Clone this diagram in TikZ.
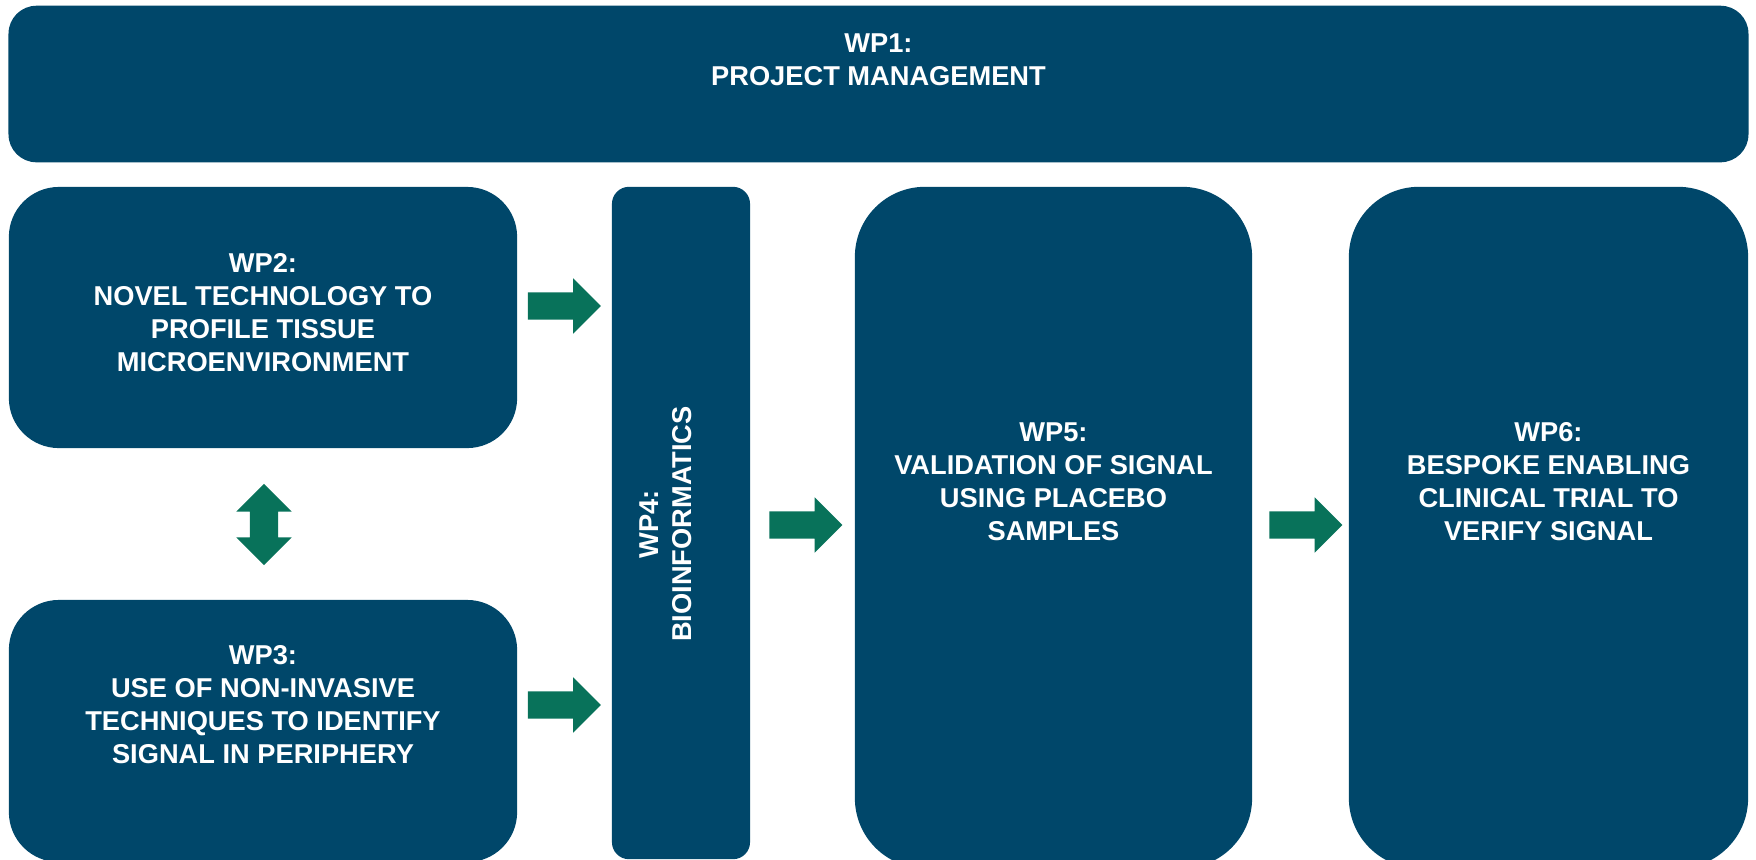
\documentclass[tikz,border=0pt]{standalone}
\usepackage{fontspec}
\setmainfont{Liberation Sans}
\usetikzlibrary{shapes.arrows}

\definecolor{wpblue}{RGB}{0,71,106}
\definecolor{wpgreen}{RGB}{8,114,90}

\tikzset{
  wpbox/.style={rectangle, fill=wpblue, draw=none, inner sep=0pt},
  wptext/.style={text=white, align=center, inner sep=0pt,
    font=\bfseries\fontsize{7.75}{9.4}\selectfont},
  wparrow/.style={single arrow, fill=wpgreen, draw=none, inner sep=0.13cm,
    minimum height=0.73cm, minimum width=0.54cm,
    single arrow head extend=0.14cm, single arrow head indent=0pt},
  wpdouble/.style={double arrow, fill=wpgreen, draw=none, inner sep=0.135cm,
    minimum height=0.81cm, minimum width=0.54cm,
    double arrow head extend=0.135cm, double arrow head indent=0pt}
}

\begin{document}
\begin{tikzpicture}[x=0.01cm, y=-0.01cm]
        \useasboundingbox (0,0) rectangle (1756,859);
        \clip (0,0) rectangle (1756,859);
        % ── WP1 a lo ancho ───────────────────────────────────
        \node[wpbox, rounded corners=0.28cm, minimum width=17.39cm, minimum height=1.565cm] (wp1) at (878.5,84) {};
        \node[wptext] (wp1txt) at (878.5,60) {WP1:\\PROJECT MANAGEMENT};
        % ── columna izquierda: WP2 y WP3 ─────────────────────
        \node[wpbox, rounded corners=0.5cm, minimum width=5.08cm, minimum height=2.61cm] (wp2) at (263,317.5) {};
        \node[wptext] (wp2txt) at (263,313) {WP2:\\NOVEL TECHNOLOGY TO\\PROFILE TISSUE\\MICROENVIRONMENT};
        \node[wpbox, rounded corners=0.5cm, minimum width=5.08cm, minimum height=2.62cm] (wp3) at (263,731) {};
        \node[wptext] (wp3txt) at (263,705) {WP3:\\USE OF NON-INVASIVE\\TECHNIQUES TO IDENTIFY\\SIGNAL IN PERIPHERY};
        \node[wpdouble, shape border rotate=90] (a23) at (264,524.5) {};
        % ── WP4 vertical ─────────────────────────────────────
        \node[wpbox, rounded corners=0.17cm, minimum width=1.38cm, minimum height=6.72cm] (wp4) at (681,523) {};
        \node[wptext, rotate=90] (wp4txt) at (666,524) {WP4:\\BIOINFORMATICS};
        \node[wparrow] (a24) at (557.5,306) {};
        \node[wparrow] (a34) at (557.5,705) {};
        % ── WP5 y WP6 ────────────────────────────────────────
        \node[wpbox, rounded corners=0.7cm, minimum width=3.97cm, minimum height=6.81cm] (wp5) at (1053.5,527.5) {};
        \node[wptext] (wp5txt) at (1053.5,482) {WP5:\\VALIDATION OF SIGNAL\\USING PLACEBO\\SAMPLES};
        \node[wpbox, rounded corners=0.7cm, minimum width=3.99cm, minimum height=6.81cm] (wp6) at (1548.5,527.5) {};
        \node[wptext] (wp6txt) at (1548.5,482) {WP6:\\BESPOKE ENABLING\\CLINICAL TRIAL TO\\VERIFY SIGNAL};
        \node[wparrow] (a45) at (799,525) {};
        \node[wparrow] (a56) at (1299,525) {};
\end{tikzpicture}
\end{document}
